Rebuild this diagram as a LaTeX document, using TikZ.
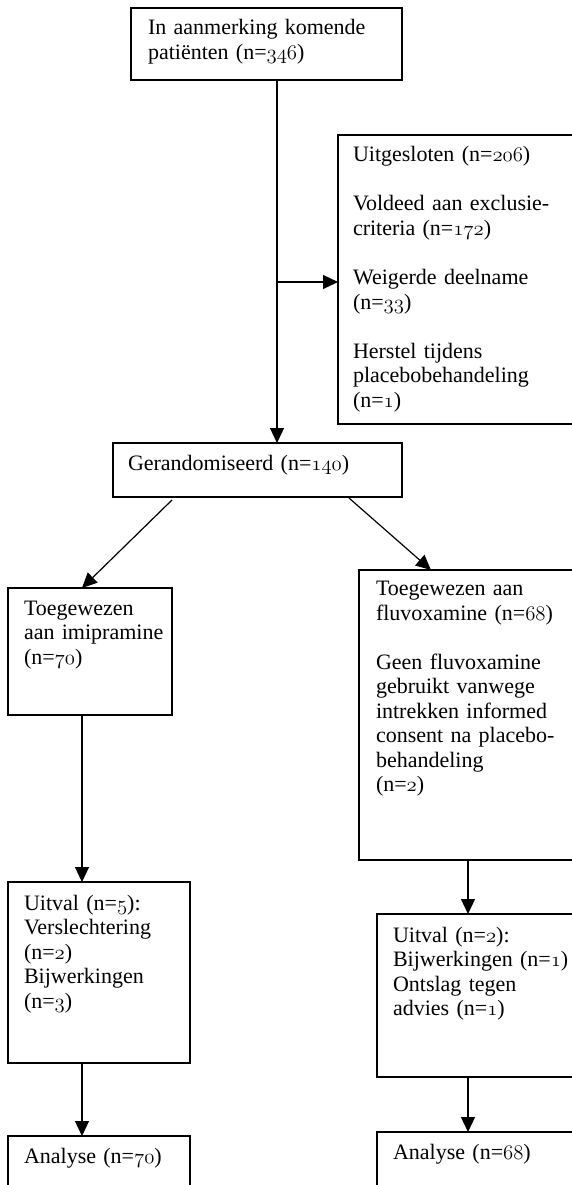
\documentclass[tikz,border=0pt]{standalone}
\usepackage{fontspec}
\setmainfont{Liberation Serif}
\usetikzlibrary{arrows.meta,calc}
\makeatletter
\newcommand{\osn}[1]{{\usefont{OML}{cmm}{m}{it}#1}}
\makeatother
\begin{document}
\begin{tikzpicture}[x=1pt,y=-1pt,
  box/.style={draw, line width=1.2pt, anchor=north west, inner sep=0pt, outer sep=0pt},
  txt/.style={anchor=north west, inner sep=0pt, outer sep=0pt, align=left, text width=240pt,
              font=\fontsize{22}{24.5}\selectfont},
  arr/.style={line width=1.2pt, -{Triangle[length=15pt,width=14pt]}}]
\useasboundingbox (0,0) rectangle (572,1185);
\clip (0,0) rectangle (572,1185);
% boxes
\node[box, minimum width=271pt, minimum height=72pt]  (A)  at (131,8)    {};
\node[box, minimum width=262pt, minimum height=289pt] (U)  at (338,135)  {};
\node[box, minimum width=289pt, minimum height=54pt]  (G)  at (113,443)  {};
\node[box, minimum width=164pt, minimum height=127pt] (L1) at (8,588)    {};
\node[box, minimum width=241pt, minimum height=290pt] (R1) at (359,570)  {};
\node[box, minimum width=182pt, minimum height=181pt] (L2) at (8,882)    {};
\node[box, minimum width=223pt, minimum height=163pt] (R2) at (377,914)  {};
\node[box, minimum width=182pt, minimum height=120pt] (L3) at (8,1136)   {};
\node[box, minimum width=223pt, minimum height=120pt] (R3) at (377,1132) {};
% texts
\node[txt] (tA) at ($(A.north west)+(17,9.85)$) {\strut In aanmerking komende\\patiënten (n=\osn{346})};
\node[txt] (tU) at ($(U.north west)+(15,9.85)$) {\strut Uitgesloten (n=\osn{206})\\[24.5pt]
  Voldeed aan exclusie-\\criteria (n=\osn{172})\\[24.5pt]
  Weigerde deelname\\(n=\osn{33})\\[24.5pt]
  Herstel tijdens\\placebobehandeling\\(n=\osn{1})};
\node[txt] (tG) at ($(G.north west)+(15,9.85)$) {\strut Gerandomiseerd (n=\osn{140})};
\node[txt] (tL1) at ($(L1.north west)+(16,9.85)$) {\strut Toegewezen\\aan imipramine\\(n=\osn{70})};
\node[txt] (tR1) at ($(R1.north west)+(17,8.5)$) {\strut Toegewezen aan\\fluvoxamine (n=\osn{68})\\[24.5pt]
  Geen fluvoxamine\\gebruikt vanwege\\intrekken informed\\consent na placebo-\\behandeling\\(n=\osn{2})};
\node[txt] (tL2) at ($(L2.north west)+(16,10.85)$) {\strut Uitval (n=\osn{5}):\\Verslechtering\\(n=\osn{2})\\Bijwerkingen\\(n=\osn{3})};
\node[txt] (tR2) at ($(R2.north west)+(16,10.85)$) {\strut Uitval (n=\osn{2}):\\Bijwerkingen (n=\osn{1})\\Ontslag tegen\\advies (n=\osn{1})};
\node[txt] (tL3) at ($(L3.north west)+(16,9.85)$) {\strut Analyse (n=\osn{70})};
\node[txt] (tR3) at ($(R3.north west)+(16,9.85)$) {\strut Analyse (n=\osn{68})};
% connectors
\coordinate (br) at (277,282);
\draw[arr] ($(A.south west)+(146,0)$) -- ($(G.north west)+(164,0)$);
\draw[arr] (br) -- (br -| U.west);
\draw[arr] ($(G.south west)+(59,3)$) -- ($(L1.north west)+(74,0)$);
\draw[arr] ($(G.south west)+(236,1)$) -- ($(R1.north west)+(72,0)$);
\draw[arr] ($(L1.south west)+(74,0)$) -- ($(L2.north west)+(74,0)$);
\draw[arr] ($(L2.south west)+(74,0)$) -- ($(L3.north west)+(74,0)$);
\draw[arr] ($(R1.south west)+(109,0)$) -- ($(R2.north west)+(91,0)$);
\draw[arr] ($(R2.south west)+(91,0)$) -- ($(R3.north west)+(91,0)$);
\end{tikzpicture}
\end{document}
